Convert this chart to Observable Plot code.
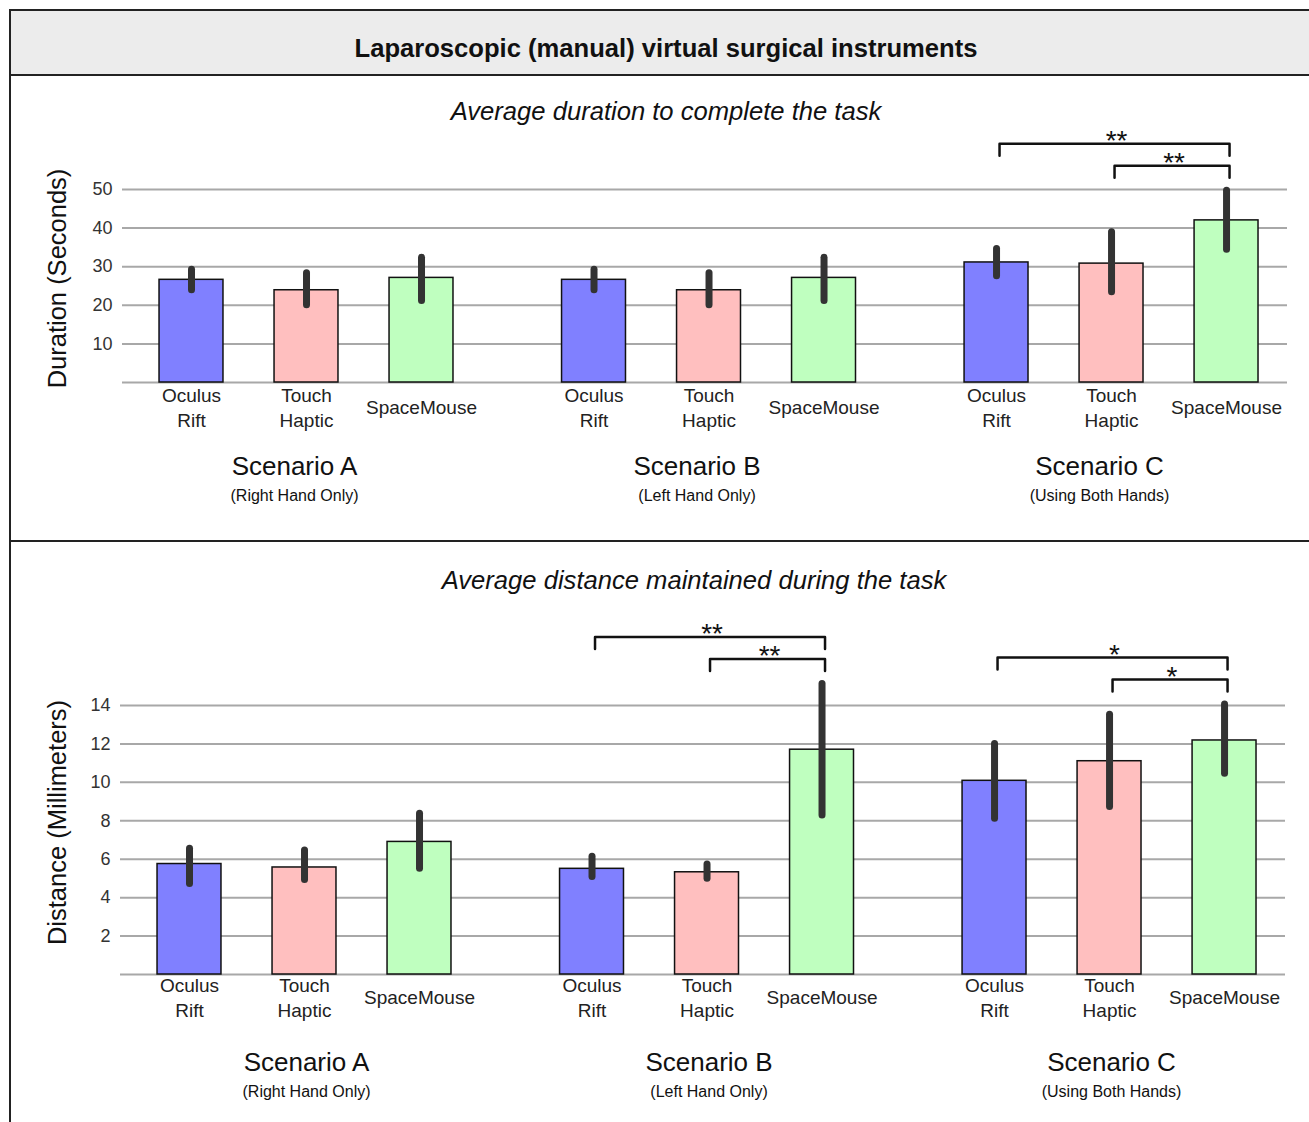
<!DOCTYPE html>
<html>
<head>
<meta charset="utf-8">
<script src="https://cdn.jsdelivr.net/npm/d3@7"></script>
<script src="https://cdn.jsdelivr.net/npm/@observablehq/plot@0.6"></script>
<style>
  html, body { margin: 0; padding: 0; background: #fff; width: 1309px; height: 1122px; overflow: hidden;
    font-family: "Liberation Sans", Arial, Helvetica, sans-serif; color: #111; }
  .abs { position: absolute; }
  .line { position: absolute; background: #222; z-index: 5; }
  .txt { position: absolute; text-align: center; white-space: nowrap; z-index: 4; }
  .panel { position: absolute; left: 0; z-index: 1; }
</style>
</head>
<body>
<div class="abs" style="left:9px;top:9px;width:1300px;height:66px;background:#ececec;"></div>
<div class="line" style="left:9px;top:9px;width:1300px;height:2px;"></div>
<div class="line" style="left:9px;top:9px;width:2px;height:1113px;"></div>
<div class="line" style="left:9px;top:74px;width:1300px;height:2px;"></div>
<div class="line" style="left:9px;top:540px;width:1300px;height:2px;"></div>
<div class="txt" id="title" style="left:166px;width:1000px;top:34px;font-size:25.6px;line-height:28px;font-weight:bold;"></div>
<div class="txt" id="sub1" style="left:166px;width:1000px;top:97px;font-size:25.6px;line-height:28px;font-style:italic;"></div>
<div class="txt" id="sub2" style="left:194px;width:1000px;top:566px;font-size:25.6px;line-height:28px;font-style:italic;"></div>
<div class="panel" id="p1" style="top:76px;"></div>
<div class="panel" id="p2" style="top:542px;"></div>
<script>
// ---- data ----
const chartTitle = "Laparoscopic (manual) virtual surgical instruments";
const durationTitle = "Average duration to complete the task";
const distanceTitle = "Average distance maintained during the task";
const scenarios = ["Scenario A", "Scenario B", "Scenario C"];
const scenarioNotes = ["(Right Hand Only)", "(Left Hand Only)", "(Using Both Hands)"];
const devices = ["Oculus\nRift", "Touch\nHaptic", "SpaceMouse"];
const deviceColors = ["#8080ff", "#ffbfbf", "#bfffbf"];

// duration (seconds), order: A(O,T,S), B(O,T,S), C(O,T,S)
const durationMean = [26.6, 23.9, 27.1, 26.6, 23.9, 27.1, 31.1, 30.8, 42.0];
const durationLow  = [23.9, 20.0, 21.1, 23.9, 20.0, 21.1, 27.5, 23.4, 34.4];
const durationHigh = [29.2, 28.3, 32.3, 29.2, 28.3, 32.3, 34.6, 38.9, 49.7];
const durationTicks = [10, 20, 30, 40, 50];
const durationBrackets = [
  {scenario: 2, from: 0, to: 2, label: "**"},
  {scenario: 2, from: 1, to: 2, label: "**"}
];

// distance (millimeters)
const distanceMean = [5.75, 5.57, 6.9, 5.5, 5.32, 11.7, 10.08, 11.1, 12.18];
const distanceLow  = [4.71, 4.92, 5.51, 5.07, 4.98, 8.28, 8.11, 8.72, 10.45];
const distanceHigh = [6.54, 6.45, 8.36, 6.13, 5.72, 15.12, 12.0, 13.52, 14.05];
const distanceTicks = [2, 4, 6, 8, 10, 12, 14];
const distanceBrackets = [
  {scenario: 1, from: 0, to: 2, label: "**"},
  {scenario: 1, from: 1, to: 2, label: "**"},
  {scenario: 2, from: 0, to: 2, label: "*"},
  {scenario: 2, from: 1, to: 2, label: "*"}
];

document.getElementById("title").textContent = chartTitle;
document.getElementById("sub1").textContent = durationTitle;
document.getElementById("sub2").textContent = distanceTitle;

const groupStep = 3.5;   // in units of bar step
const halfW = 0.278;     // half bar width in bar-step units
const FONT = "Liberation Sans, Arial, Helvetica, sans-serif";

function drawPanel(cfg) {
  const rows = cfg.means.map((m, i) => {
    const g = Math.floor(i / 3), d = i % 3;
    return {g, d, pos: g * groupStep + d, mean: m, low: cfg.lows[i], high: cfg.highs[i], device: devices[d]};
  });
  const ppu = (cfg.height - cfg.marginTop - cfg.marginBottom) / cfg.yMax;
  const bracketRows = cfg.brackets.map((b, k) => {
    const level = b.to - b.from - 1;
    const maxHigh = d3.max(rows.filter(r => r.g === b.scenario), r => r.high);
    const yb = maxHigh + (25 + 22 * level) / ppu;
    const yl = yb - 12 / ppu;
    const x1 = b.scenario * groupStep + b.from, x2 = b.scenario * groupStep + b.to;
    return {k, yb, yl, x1, x2, mid: (x1 + x2) / 2, label: b.label};
  });
  const bracketPts = bracketRows.flatMap(b => [
    {k: b.k, x: b.x1, y: b.yl}, {k: b.k, x: b.x1, y: b.yb},
    {k: b.k, x: b.x2, y: b.yb}, {k: b.k, x: b.x2, y: b.yl}
  ]);
  const groups = scenarios.map((s, g) => ({g, name: s, note: scenarioNotes[g], pos: g * groupStep + 1}));

  const chart = Plot.plot({
    width: 1309,
    height: cfg.height,
    marginTop: cfg.marginTop,
    marginBottom: cfg.marginBottom,
    marginLeft: cfg.marginLeft,
    marginRight: cfg.marginRight,
    x: {type: "linear", domain: [-0.6, 9.53], axis: null},
    y: {domain: [0, cfg.yMax]},
    color: {domain: devices, range: deviceColors},
    style: {background: "transparent", fontFamily: FONT, color: "#222", overflow: "visible"},
    marks: [
      Plot.ruleY([0, ...cfg.ticks], {stroke: "#a8a8a8", strokeWidth: 2}),
      Plot.axisY({ticks: cfg.ticks, tickSize: 0, tickPadding: 10, fontSize: 18, label: null, fill: "#333"}),
      Plot.rectY(rows, {x1: d => d.pos - halfW, x2: d => d.pos + halfW, y1: 0, y2: "mean", fill: "device", stroke: "#111", strokeWidth: 1.5}),
      Plot.ruleX(rows, {x: "pos", y1: "low", y2: "high", stroke: "#333", strokeWidth: 7, strokeLinecap: "round"}),
      Plot.text(rows, {x: "pos", text: "device", frameAnchor: "bottom", lineAnchor: "middle", dy: cfg.labelDy, fontSize: 19, lineHeight: 1.3, fill: "#222"}),
      Plot.text(groups, {x: "pos", text: "name", frameAnchor: "bottom", lineAnchor: "middle", dy: cfg.scenDy, dx: cfg.scenDx, fontSize: 26, fill: "#111"}),
      Plot.text(groups, {x: "pos", text: "note", frameAnchor: "bottom", lineAnchor: "middle", dy: cfg.scenDy + 29, dx: cfg.scenDx, fontSize: 16, fill: "#111"}),
      Plot.text([cfg.yLabel], {text: d => d, frameAnchor: "left", textAnchor: "middle", rotate: -90, dx: cfg.yLabelDx, dy: cfg.yLabelDy, fontSize: 25.5, fill: "#111"}),
      Plot.line(bracketPts, {x: "x", y: "y", z: "k", stroke: "#111", strokeWidth: 2.5, dx: 3}),
      Plot.text(bracketRows, {x: "mid", y: "yb", text: "label", fontSize: 28, lineAnchor: "middle", dy: -3, dx: 5, fill: "#111"})
    ]
  });
  document.getElementById(cfg.el).appendChild(chart);
}

drawPanel({
  el: "p1", means: durationMean, lows: durationLow, highs: durationHigh, ticks: durationTicks,
  brackets: durationBrackets, yMax: 50, yLabel: "Duration (Seconds)",
  height: 464, marginTop: 113, marginBottom: 158, marginLeft: 122, marginRight: 22,
  labelDy: 24, scenDy: 84, scenDx: -12, yLabelDx: -65, yLabelDy: -7.5
});
drawPanel({
  el: "p2", means: distanceMean, lows: distanceLow, highs: distanceHigh, ticks: distanceTicks,
  brackets: distanceBrackets, yMax: 14, yLabel: "Distance (Millimeters)",
  height: 580, marginTop: 163, marginBottom: 148, marginLeft: 120, marginRight: 24,
  labelDy: 22, scenDy: 88, scenDx: 2, yLabelDx: -63, yLabelDy: -17.5
});
</script>
</body>
</html>
